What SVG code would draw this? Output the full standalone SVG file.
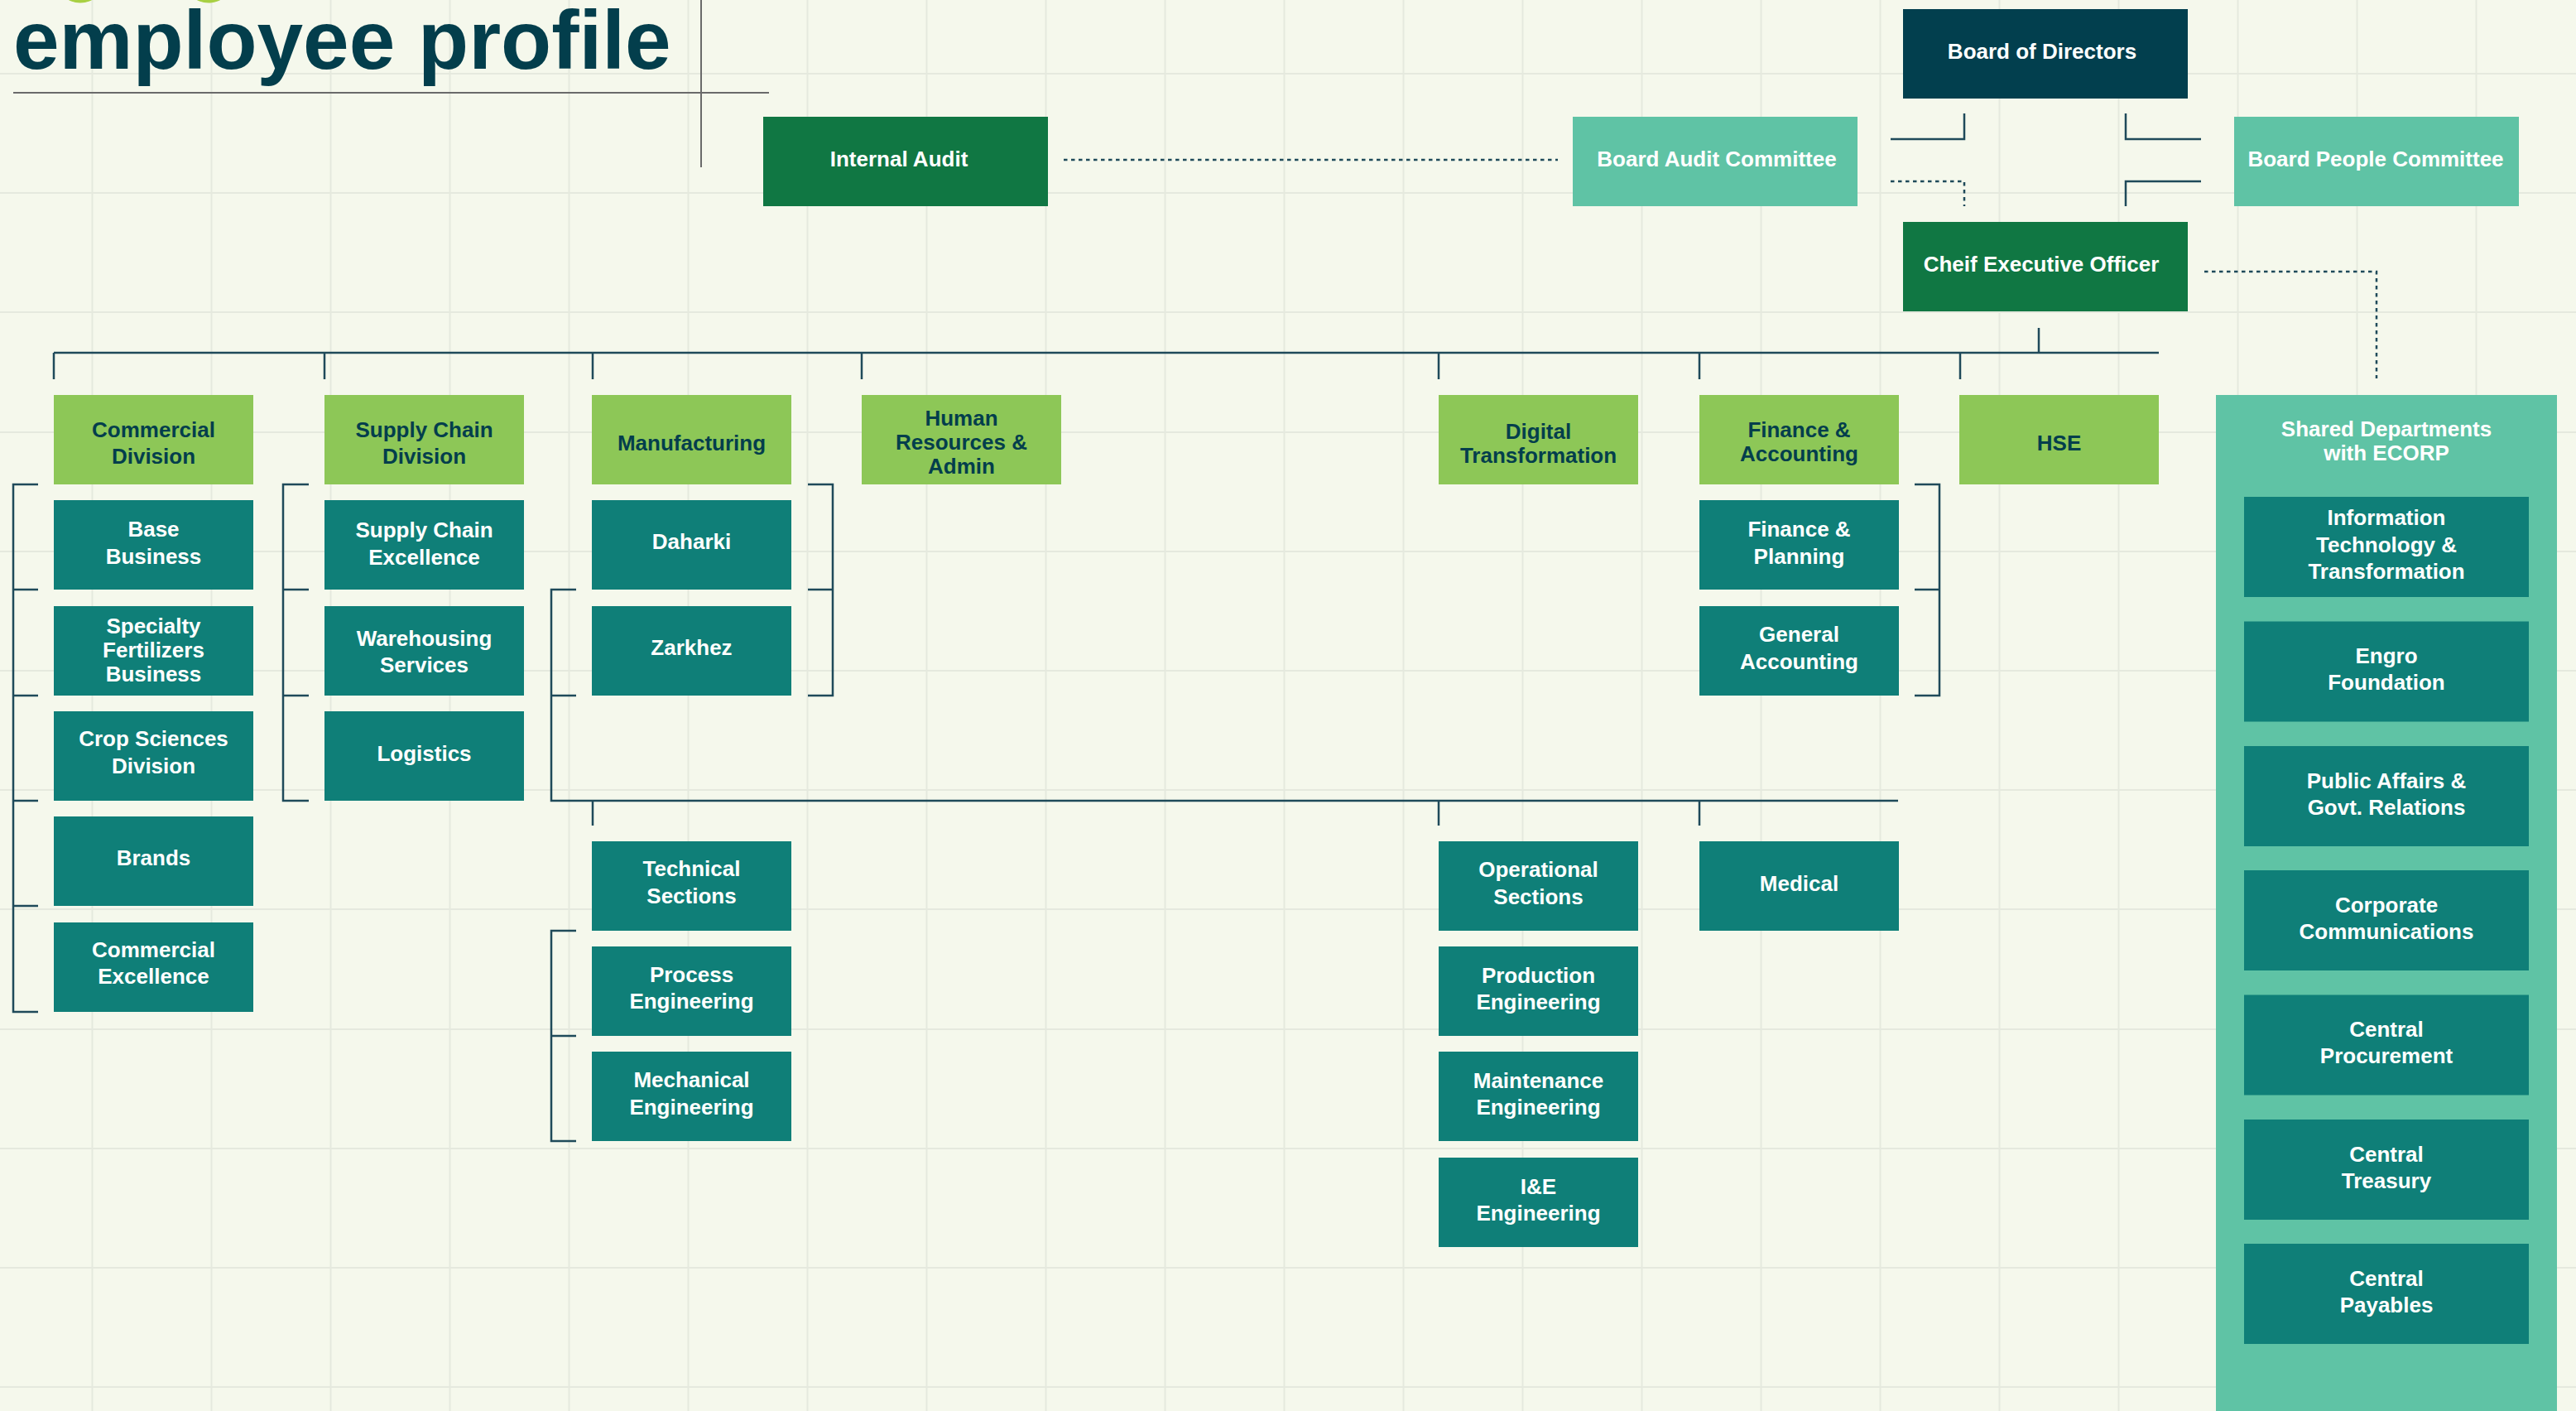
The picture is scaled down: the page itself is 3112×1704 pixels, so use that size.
<svg xmlns="http://www.w3.org/2000/svg" width="3112" height="1704" viewBox="0 0 3112 1704">
<style>
.grid{stroke:#e5e9de;stroke-width:2;fill:none}
.t{font-family:"Liberation Sans",Arial,Helvetica,sans-serif;font-weight:bold;font-size:26px;text-anchor:middle}
.w{fill:#ffffff}
.d{fill:#033e4c}
.head{fill:#8dc757}
.child{fill:#0f7f78}
.navy{fill:#023f4e}
.green{fill:#107743}
.mint{fill:#5fc3a5}
.conn{stroke:#1f4a5a;stroke-width:2.5;fill:none}
.dot{stroke-dasharray:4.5 4.5}
.rule{stroke:#6a6a6a;stroke-width:2;fill:none}
</style>
<rect x="0" y="0" width="3112" height="1704" fill="#f5f8ec"/>
<g id="grid">
<path class="grid" d="M111.5,0V1704M255.5,0V1704M399.5,0V1704M543.5,0V1704M687.5,0V1704M831.5,0V1704M975.5,0V1704M1119.5,0V1704M1263.5,0V1704M1407.5,0V1704M1551.5,0V1704M1695.5,0V1704M1839.5,0V1704M1983.5,0V1704M2127.5,0V1704M2271.5,0V1704M2415.5,0V1704M2559.5,0V1704M2703.5,0V1704M2847.5,0V1704M2991.5,0V1704"/>
<path class="grid" d="M0,89H3112M0,233H3112M0,377H3112M0,522H3112M0,666H3112M0,810H3112M0,954H3112M0,1098H3112M0,1243H3112M0,1387H3112M0,1531H3112M0,1675H3112"/>
</g>
<g id="title">
<circle cx="97" cy="-26.5" r="30" fill="#a8d043"/>
<circle cx="252" cy="-26.5" r="30" fill="#a8d043"/>
<text x="16" y="83" font-family="Liberation Sans,Arial,sans-serif" font-weight="bold" font-size="100" fill="#033e4c">employee profile</text>
<path class="rule" d="M16,112H929M847,0V202"/>
</g>
<g id="connectors">
<path class="conn dot" d="M1285,193H1882"/>
<path class="conn" d="M2284,168H2373V137"/>
<path class="conn" d="M2568,137V168H2659"/>
<path class="conn dot" d="M2284,219H2373V249"/>
<path class="conn" d="M2659,219H2568V249"/>
<path class="conn dot" d="M2663,328H2871V457"/>
<path class="conn" d="M2463,396V426M65,426H2608"/>
<path class="conn" d="M65,426V458M392,426V458M716,426V458M1041,426V458M1738,426V458M2053,426V458M2368,426V458"/>
<path class="conn" d="M46,585H16V1222H46M16,712H46M16,840H46M16,967H46M16,1094H46"/>
<path class="conn" d="M373,585H342V967H373M342,712H373M342,840H373"/>
<path class="conn" d="M976,585H1006V840H976M1006,712H976"/>
<path class="conn" d="M696,712H666V967H2293M666,840H696"/>
<path class="conn" d="M716,967V997M1738,967V997M2053,967V997"/>
<path class="conn" d="M696,1124H666V1378H696M666,1251H696"/>
<path class="conn" d="M2313,585H2343V840H2313M2343,712H2313"/>
</g>
<g id="board-of-directors"><rect class="navy" x="2299" y="11" width="344" height="108"/><text class="t w" x="2467" y="71">Board of Directors</text></g>
<g id="internal-audit"><rect class="green" x="922" y="141" width="344" height="108"/><text class="t w" x="1086" y="201">Internal Audit</text></g>
<g id="board-audit-committee"><rect class="mint" x="1900" y="141" width="344" height="108"/><text class="t w" x="2074" y="201">Board Audit Committee</text></g>
<g id="board-people-committee"><rect class="mint" x="2699" y="141" width="344" height="108"/><text class="t w" x="2870" y="201">Board People Committee</text></g>
<g id="ceo"><rect class="green" x="2299" y="268" width="344" height="108"/><text class="t w" x="2466" y="328">Cheif Executive Officer</text></g>

<g id="commercial-division"><rect class="head" x="65" y="477" width="241" height="108"/><text class="t d" x="185.5" y="528">Commercial</text><text class="t d" x="185.5" y="560">Division</text></g>
<g id="supply-chain-division"><rect class="head" x="392" y="477" width="241" height="108"/><text class="t d" x="512.5" y="528">Supply Chain</text><text class="t d" x="512.5" y="560">Division</text></g>
<g id="manufacturing"><rect class="head" x="715" y="477" width="241" height="108"/><text class="t d" x="835.5" y="544">Manufacturing</text></g>
<g id="human-resources"><rect class="head" x="1041" y="477" width="241" height="108"/><text class="t d" x="1161.5" y="514">Human</text><text class="t d" x="1161.5" y="543">Resources &amp;</text><text class="t d" x="1161.5" y="572">Admin</text></g>
<g id="digital-transformation"><rect class="head" x="1738" y="477" width="241" height="108"/><text class="t d" x="1858.5" y="530">Digital</text><text class="t d" x="1858.5" y="559">Transformation</text></g>
<g id="finance-accounting"><rect class="head" x="2053" y="477" width="241" height="108"/><text class="t d" x="2173.5" y="528">Finance &amp;</text><text class="t d" x="2173.5" y="557">Accounting</text></g>
<g id="hse"><rect class="head" x="2367" y="477" width="241" height="108"/><text class="t d" x="2487.5" y="544">HSE</text></g>

<g id="base-business"><rect class="child" x="65" y="604" width="241" height="108"/><text class="t w" x="185.5" y="648">Base</text><text class="t w" x="185.5" y="681">Business</text></g>
<g id="specialty-fertilizers"><rect class="child" x="65" y="732" width="241" height="108"/><text class="t w" x="185.5" y="765">Specialty</text><text class="t w" x="185.5" y="794">Fertilizers</text><text class="t w" x="185.5" y="823">Business</text></g>
<g id="crop-sciences"><rect class="child" x="65" y="859" width="241" height="108"/><text class="t w" x="185.5" y="901">Crop Sciences</text><text class="t w" x="185.5" y="934">Division</text></g>
<g id="brands"><rect class="child" x="65" y="986" width="241" height="108"/><text class="t w" x="185.5" y="1045">Brands</text></g>
<g id="commercial-excellence"><rect class="child" x="65" y="1114" width="241" height="108"/><text class="t w" x="185.5" y="1156">Commercial</text><text class="t w" x="185.5" y="1188">Excellence</text></g>

<g id="supply-chain-excellence"><rect class="child" x="392" y="604" width="241" height="108"/><text class="t w" x="512.5" y="649">Supply Chain</text><text class="t w" x="512.5" y="682">Excellence</text></g>
<g id="warehousing-services"><rect class="child" x="392" y="732" width="241" height="108"/><text class="t w" x="512.5" y="780">Warehousing</text><text class="t w" x="512.5" y="812">Services</text></g>
<g id="logistics"><rect class="child" x="392" y="859" width="241" height="108"/><text class="t w" x="512.5" y="919">Logistics</text></g>

<g id="daharki"><rect class="child" x="715" y="604" width="241" height="108"/><text class="t w" x="835.5" y="663">Daharki</text></g>
<g id="zarkhez"><rect class="child" x="715" y="732" width="241" height="108"/><text class="t w" x="835.5" y="791">Zarkhez</text></g>

<g id="finance-planning"><rect class="child" x="2053" y="604" width="241" height="108"/><text class="t w" x="2173.5" y="648">Finance &amp;</text><text class="t w" x="2173.5" y="681">Planning</text></g>
<g id="general-accounting"><rect class="child" x="2053" y="732" width="241" height="108"/><text class="t w" x="2173.5" y="775">General</text><text class="t w" x="2173.5" y="808">Accounting</text></g>

<g id="technical-sections"><rect class="child" x="715" y="1016" width="241" height="108"/><text class="t w" x="835.5" y="1058">Technical</text><text class="t w" x="835.5" y="1091">Sections</text></g>
<g id="process-engineering"><rect class="child" x="715" y="1143" width="241" height="108"/><text class="t w" x="835.5" y="1186">Process</text><text class="t w" x="835.5" y="1218">Engineering</text></g>
<g id="mechanical-engineering"><rect class="child" x="715" y="1270" width="241" height="108"/><text class="t w" x="835.5" y="1313">Mechanical</text><text class="t w" x="835.5" y="1346">Engineering</text></g>

<g id="operational-sections"><rect class="child" x="1738" y="1016" width="241" height="108"/><text class="t w" x="1858.5" y="1059">Operational</text><text class="t w" x="1858.5" y="1092">Sections</text></g>
<g id="production-engineering"><rect class="child" x="1738" y="1143" width="241" height="108"/><text class="t w" x="1858.5" y="1187">Production</text><text class="t w" x="1858.5" y="1219">Engineering</text></g>
<g id="maintenance-engineering"><rect class="child" x="1738" y="1270" width="241" height="108"/><text class="t w" x="1858.5" y="1314">Maintenance</text><text class="t w" x="1858.5" y="1346">Engineering</text></g>
<g id="ie-engineering"><rect class="child" x="1738" y="1398" width="241" height="108"/><text class="t w" x="1858.5" y="1442">I&amp;E</text><text class="t w" x="1858.5" y="1474">Engineering</text></g>

<g id="medical"><rect class="child" x="2053" y="1016" width="241" height="108"/><text class="t w" x="2173.5" y="1076">Medical</text></g>

<g id="shared-departments">
<rect class="mint" x="2677" y="477" width="412" height="1227"/>
<text class="t w" x="2883" y="527">Shared Departments</text><text class="t w" x="2883" y="556">with ECORP</text>
</g>
<g id="it-transformation"><rect class="child" x="2711" y="600" width="344" height="121"/><text class="t w" x="2883" y="634">Information</text><text class="t w" x="2883" y="666.5">Technology &amp;</text><text class="t w" x="2883" y="699">Transformation</text></g>
<g id="engro-foundation"><rect class="child" x="2711" y="750.5" width="344" height="121"/><text class="t w" x="2883" y="801">Engro</text><text class="t w" x="2883" y="833">Foundation</text></g>
<g id="public-affairs"><rect class="child" x="2711" y="901" width="344" height="121"/><text class="t w" x="2883" y="951.5">Public Affairs &amp;</text><text class="t w" x="2883" y="983.5">Govt. Relations</text></g>
<g id="corporate-communications"><rect class="child" x="2711" y="1051" width="344" height="121"/><text class="t w" x="2883" y="1101.5">Corporate</text><text class="t w" x="2883" y="1133.5">Communications</text></g>
<g id="central-procurement"><rect class="child" x="2711" y="1201.5" width="344" height="121"/><text class="t w" x="2883" y="1252">Central</text><text class="t w" x="2883" y="1284">Procurement</text></g>
<g id="central-treasury"><rect class="child" x="2711" y="1352" width="344" height="121"/><text class="t w" x="2883" y="1402.5">Central</text><text class="t w" x="2883" y="1434.5">Treasury</text></g>
<g id="central-payables"><rect class="child" x="2711" y="1502" width="344" height="121"/><text class="t w" x="2883" y="1552.5">Central</text><text class="t w" x="2883" y="1584.5">Payables</text></g>
</svg>
